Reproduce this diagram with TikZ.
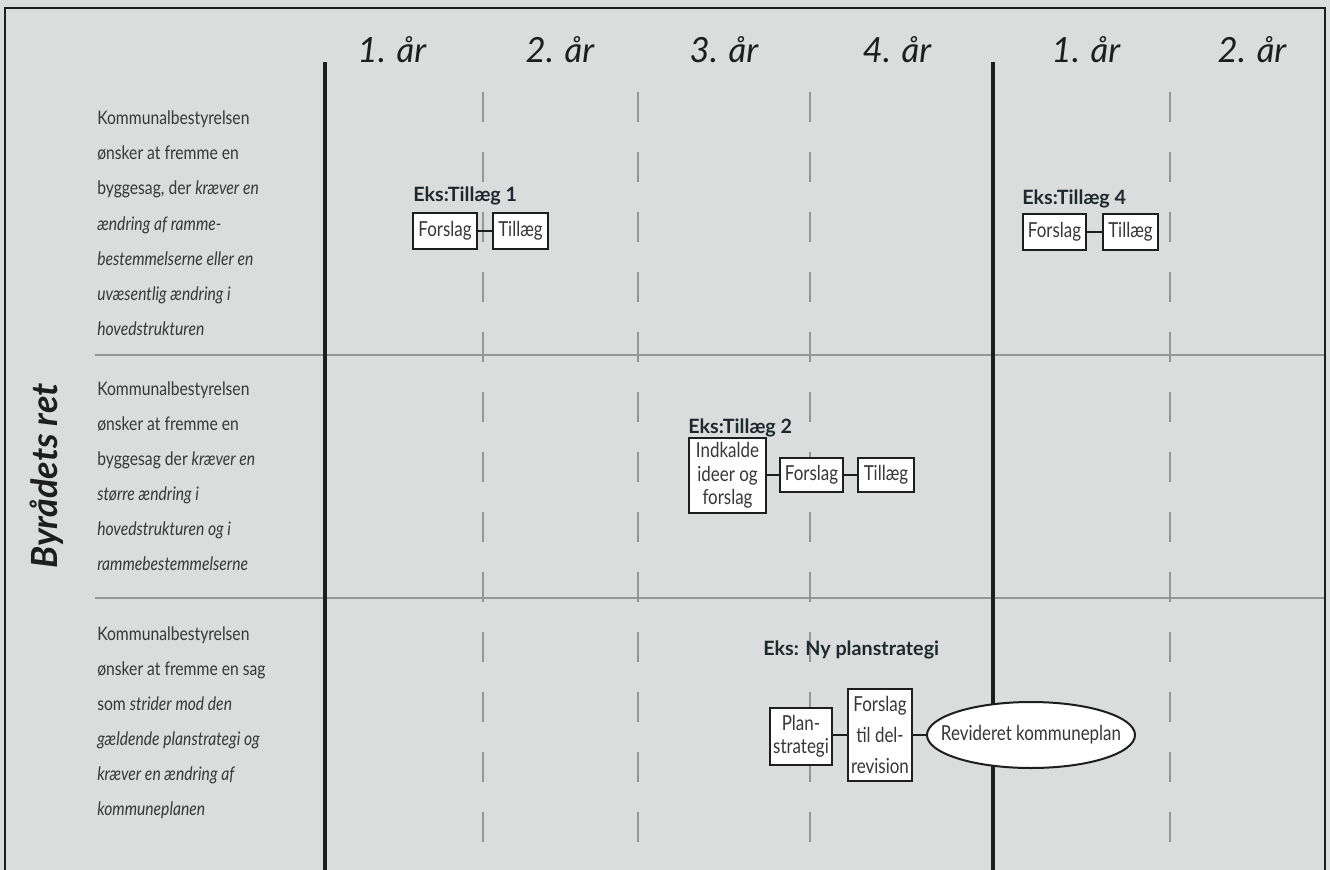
\documentclass[tikz,border=0pt]{standalone}
\usepackage{fontspec}
\setmainfont{Lato}
\newfontfamily\gill{Lato}[FakeStretch=0.84]
\newfontfamily\gillb{Lato}[FakeStretch=0.82]
\usetikzlibrary{shapes.geometric}
\definecolor{bg}{RGB}{218,221,219}
\definecolor{ink}{RGB}{30,30,30}
\definecolor{txt}{RGB}{55,55,55}
\definecolor{grid}{RGB}{150,150,150}
\definecolor{lab}{RGB}{30,40,45}
\begin{document}
\begin{tikzpicture}[x=0.75pt,y=-0.75pt,
  box/.style={draw=ink, line width=1.5pt, fill=white, inner sep=0pt, align=center,
    font=\gillb\fontsize{15.5}{17.5}\selectfont, text=txt},
  conn/.style={draw=ink, line width=1.5pt},
  heavy/.style={draw=ink, line width=3pt},
  dashv/.style={draw=grid, line width=1.5pt, dash pattern=on 22.5pt off 22.5pt},
  hline/.style={draw=grid, line width=1.5pt},
  yr/.style={font=\itshape\fontsize{26}{30}\selectfont, text=ink, anchor=base, inner sep=0pt},
  eks/.style={font=\bfseries\fontsize{14.8}{17}\selectfont, text=lab, anchor=base west, inner sep=0pt},
  rt/.style={font=\gill\fontsize{14}{16}\selectfont, text=txt, anchor=base west, inner sep=0pt},
  lbl/.style={font=\gillb\fontsize{15.5}{17.5}\selectfont, text=txt, inner sep=0pt}
]
\useasboundingbox (0,0) rectangle (1330,870);
\fill[bg] (0,0) rectangle (1330,870);

% grid
\foreach \x in {483,638,810,1170} \draw[dashv] (\x,92) -- (\x,872);
\draw[hline] (95,355) -- (1325,355);
\draw[hline] (95,598) -- (1325,598);
\draw[heavy] (325,62) -- (325,872);
\draw[heavy] (993,62) -- (993,872);
% frame
\draw[draw=ink, line width=1.8pt] (5,872) -- (5,8) -- (1325,8) -- (1325,872);

% headers
\node[yr] (h1) at (392,63) {\textit{1. år}};
\node[yr] (h2) at (560,63) {\textit{2. år}};
\node[yr] (h3) at (724,63) {\textit{3. år}};
\node[yr] (h4) at (897,63) {\textit{4. år}};
\node[yr] (h5) at (1086,63) {\textit{1. år}};
\node[yr] (h6) at (1252,63) {\textit{2. år}};

% side title
\node[rotate=90, font=\bfseries\itshape\fontsize{27}{30}\selectfont, text=ink, inner sep=0pt] (side) at (47,476) {Byrådets ret};

% row 1 text
\node[rt] (a1) at (97,125) {Kommunalbestyrelsen};
\node[rt] (a2) at (97,160) {ønsker at fremme en};
\node[rt] (a3) at (97,195) {byggesag, der \textit{kræver en}};
\node[rt] (a4) at (97,230) {\textit{ændring af ramme-}};
\node[rt] (a5) at (97,265) {\textit{bestemmelserne eller en}};
\node[rt] (a6) at (97,300) {\textit{uvæsentlig ændring i}};
\node[rt] (a7) at (97,335) {\textit{hovedstrukturen}};
% row 2 text
\node[rt] (b1) at (97,395) {Kommunalbestyrelsen};
\node[rt] (b2) at (97,430) {ønsker at fremme en};
\node[rt] (b3) at (97,465) {byggesag der \textit{kræver en}};
\node[rt] (b4) at (97,500) {\textit{større ændring i}};
\node[rt] (b5) at (97,535) {\textit{hovedstrukturen og i}};
\node[rt] (b6) at (97,570) {\textit{rammebestemmelserne}};
% row 3 text
\node[rt] (c1) at (97,640) {Kommunalbestyrelsen};
\node[rt] (c2) at (97,675) {ønsker at fremme en sag};
\node[rt] (c3) at (97,710) {som \textit{strider mod den}};
\node[rt] (c4) at (97,745) {\textit{gældende planstrategi og}};
\node[rt] (c5) at (97,780) {\textit{kræver en ændring af}};
\node[rt] (c6) at (97,815) {\textit{kommuneplanen}};

% Tillæg 1
\node[eks] (e1) at (413,201) {Eks:Tillæg 1};
\node[box, minimum width=64*0.75pt, minimum height=36*0.75pt] (f1) at (445,231) {Forslag};
\node[box, minimum width=55*0.75pt, minimum height=36*0.75pt] (t1) at (520.5,231) {Tillæg};
\draw[conn] (f1.east) -- (t1.west);

% Tillæg 4
\node[eks] (e4) at (1022,204) {Eks:Tillæg 4};
\node[box, minimum width=63*0.75pt, minimum height=36*0.75pt] (f4) at (1054.5,232) {Forslag};
\node[box, minimum width=55*0.75pt, minimum height=36*0.75pt] (t4) at (1130.5,232) {Tillæg};
\draw[conn] (f4.east) -- (t4.west);

% Tillæg 2
\node[eks] (e2) at (688,433) {Eks:Tillæg 2};
\node[box, minimum width=77*0.75pt, minimum height=75*0.75pt] (i2) at (727.5,475.5) {Indkalde\\ideer og\\forslag};
\node[box, minimum width=63*0.75pt, minimum height=34*0.75pt] (f2) at (811.5,475) {Forslag};
\node[box, minimum width=56*0.75pt, minimum height=34*0.75pt] (t2) at (886,475) {Tillæg};
\draw[conn] (i2.east |- f2.west) -- (f2.west);
\draw[conn] (f2.east) -- (t2.west);

% Ny planstrategi
\node[eks] (e3) at (763,655) {Eks: Ny planstrategi};
\node[box, minimum width=62*0.75pt, minimum height=57*0.75pt] (p3) at (801,736) {Plan-\\strategi};
\node[box, minimum width=64*0.75pt, minimum height=92*0.75pt, font=\gillb\fontsize{15.5}{23}\selectfont] (d3) at (880,735) {Forslag\\til del-\\revision};
\node[draw=ink, line width=1.5pt, fill=white, ellipse, inner sep=0pt, minimum width=208*0.75pt, minimum height=66*0.75pt] (r3) at (1031,735) {};
\node[lbl] (r3t) at (r3.center) {Revideret kommuneplan};
\draw[conn] (p3.east |- d3.west) -- (d3.west);
\draw[conn] (d3.east) -- (r3.west);
\end{tikzpicture}
\end{document}
